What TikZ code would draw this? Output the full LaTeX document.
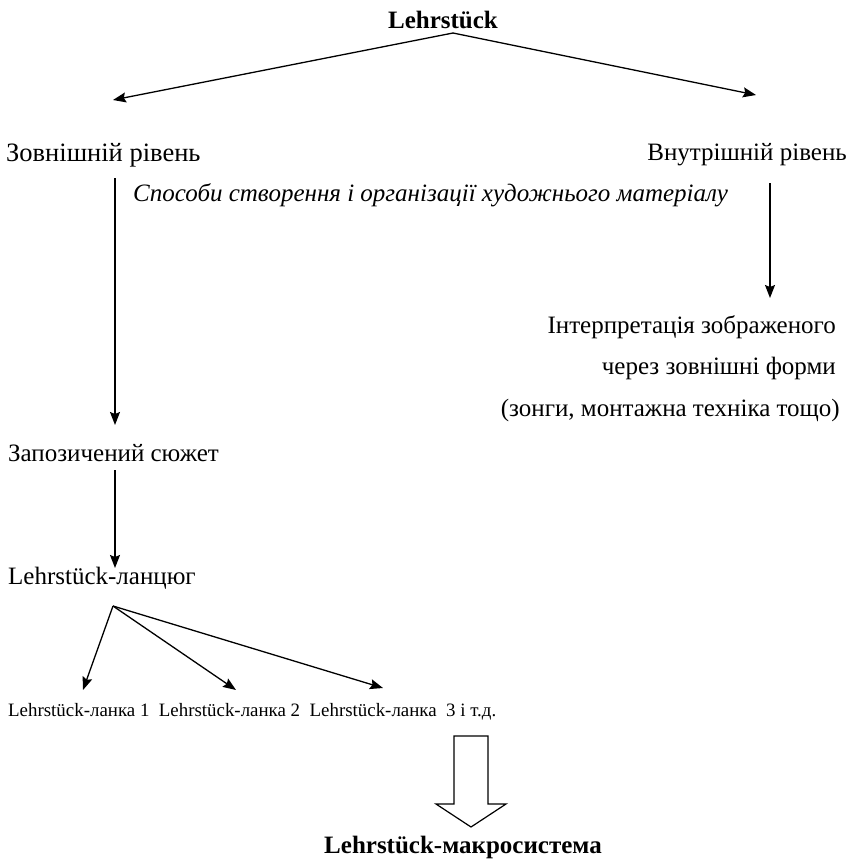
\documentclass[tikz,border=0pt]{standalone}
\usepackage{fontspec}
\setmainfont{Liberation Serif}
\usetikzlibrary{arrows.meta}
\tikzset{
  txt/.style={inner sep=0pt, font=\fontsize{25}{30}\selectfont},
  btxt/.style={inner sep=0pt, font=\fontsize{25}{30}\selectfont\bfseries},
  itxt/.style={inner sep=0pt, font=\fontsize{25}{30}\selectfont\itshape},
  stxt/.style={inner sep=0pt, font=\fontsize{18.9}{22}\selectfont},
  conn/.style={line width=1.3pt, -{Stealth[length=13pt,width=10pt,inset=2pt]}},
  block/.style={line width=1.2pt, fill=white}
}
\begin{document}
\begin{tikzpicture}[x=1pt,y=-1pt]
\useasboundingbox (0,0) rectangle (851,860);
% texts
\node[btxt] (top) at (443,20) {Lehrstück};
\node[txt, anchor=west, font=\fontsize{26.5}{30}\selectfont] (outer) at (6,155) {Зовнішній рівень};
\node[txt, anchor=east] (inner) at (847,155) {Внутрішній рівень};
\node[itxt, anchor=west] (ways) at (133,195) {Способи створення і організації художнього матеріалу};
\node[txt, anchor=east] (interp1) at (836,327) {Інтерпретація зображеного};
\node[txt, anchor=east] (interp2) at (836,368) {через зовнішні форми};
\node[txt, anchor=east] (interp3) at (840,410) {(зонги, монтажна техніка тощо)};
\node[txt, anchor=west] (plot) at (8,453) {Запозичений сюжет};
\node[txt, anchor=west] (chain) at (8,578) {Lehrstück-ланцюг};
\node[stxt, anchor=west] (links) at (8,712) {Lehrstück-ланка 1\ \ Lehrstück-ланка 2\ \ Lehrstück-ланка\ \ 3 і т.д.};
\node[btxt] (macro) at (463,847) {Lehrstück-макросистема};
% coordinates
\coordinate (apex) at (453,33);
\coordinate (lt) at (113,100);
\coordinate (rt) at (756,95);
\coordinate (ls) at (115,178);
\coordinate (le) at (115,425);
\coordinate (rs) at (770,183);
\coordinate (re) at (770,298);
\coordinate (ps) at (115,470);
\coordinate (pe) at (115,568);
\coordinate (fan) at (113,606);
\coordinate (f1) at (83,690);
\coordinate (f2) at (236,690);
\coordinate (f3) at (383,688);
% connectors
\draw[conn] (apex) -- (lt);
\draw[conn] (apex) -- (rt);
\draw[conn] (ls) -- (le);
\draw[conn] (rs) -- (re);
\draw[conn] (ps) -- (pe);
\draw[conn] (fan) -- (f1);
\draw[conn] (fan) -- (f2);
\draw[conn] (fan) -- (f3);
% block arrow
\draw[block] (454,736) -- (488,736) -- (488,804) -- (506,804) -- (471,827) -- (436,804) -- (454,804) -- cycle;
\end{tikzpicture}
\end{document}
